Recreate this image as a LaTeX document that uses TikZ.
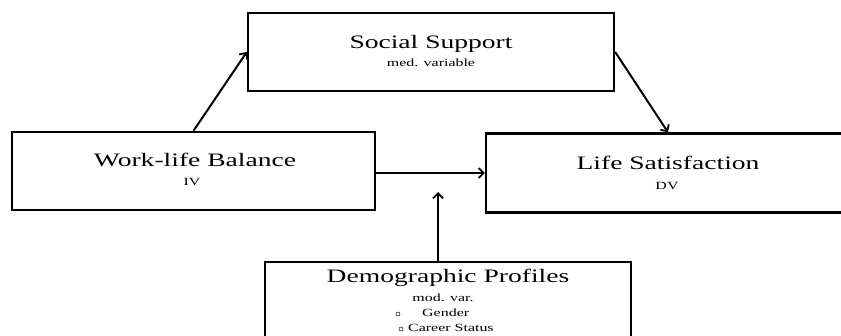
\documentclass[tikz,border=0pt]{standalone}
\usepackage{fontspec}
\usepackage{graphicx}
\setmainfont{Liberation Serif}
\usetikzlibrary{arrows.meta}
\newcommand{\bigtxt}[1]{\fontsize{19}{23}\selectfont\scalebox{1.45}[1]{#1}}
\newcommand{\smalltxt}[1]{\fontsize{11}{13}\selectfont\scalebox{1.45}[1]{#1}}
\tikzset{
  box/.style={draw=black, line width=2.4pt, rectangle, inner sep=0pt, fill=none},
  conn/.style={line width=2pt, -{Straight Barb[length=5pt,width=10pt,line width=1.8pt]}},
  lbl/.style={anchor=base, inner sep=0pt},
  lblw/.style={anchor=base west, inner sep=0pt},
  bullet/.style={draw=black, line width=0.5pt, circle, inner sep=0pt, minimum size=4pt}
}
\begin{document}
\begin{tikzpicture}[x=1pt,y=-1pt]
\useasboundingbox (0,0) rectangle (841,336);
\clip (0,0) rectangle (841,336);
% boxes
\node[box, minimum width=366pt, minimum height=78pt] (ss) at (431,52) {};
\node[box, minimum width=363pt, minimum height=78pt] (wl) at (193.5,171) {};
\node[box, minimum width=364pt, minimum height=79pt] (ls) at (668,173) {};
\node[box, minimum width=366pt, minimum height=78pt] (dp) at (448,301) {};
% texts
\node[lbl] (t1) at (431,49) {\bigtxt{Social Support}};
\node[lbl] (t2) at (431,67) {\smalltxt{med. variable}};
\node[lbl] (t3) at (195,167) {\bigtxt{Work-life Balance}};
\node[lbl] (t4) at (192,186) {\smalltxt{IV}};
\node[lbl] (t5) at (668,170) {\bigtxt{Life Satisfaction}};
\node[lbl] (t6) at (667,190) {\smalltxt{DV}};
\node[lbl] (t7) at (448,283) {\bigtxt{Demographic Profiles}};
\node[lbl] (t8) at (443,302) {\smalltxt{mod. var.}};
\node[lblw] (t9) at (422,317) {\smalltxt{Gender}};
\node[lblw] (t10) at (408,332) {\smalltxt{Career Status}};
\node[bullet] (b1) at (398,314) {};
\node[bullet] (b2) at (401,329) {};
% connectors
\coordinate (mod) at (438,192);
\draw[conn] (wl.north) -- (ss.west);
\draw[conn] (ss.east) -- (ls.north);
\draw[conn] (wl.east |- ls.west) -- (ls.west);
\draw[conn] (dp.north -| mod) -- (mod);
\end{tikzpicture}
\end{document}
